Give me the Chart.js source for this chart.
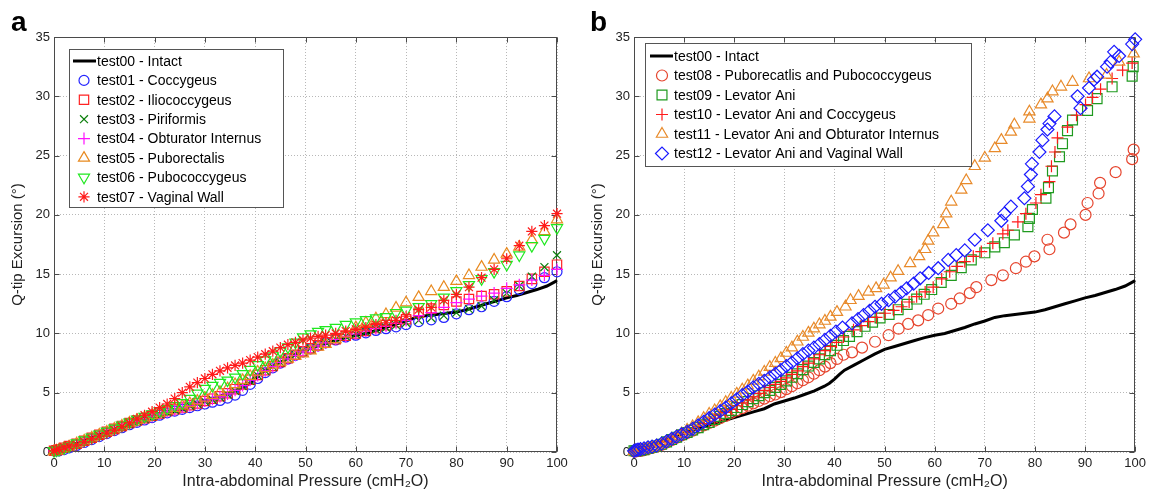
<!DOCTYPE html>
<html>
<head>
<meta charset="utf-8">
<title>Q-tip excursion vs intra-abdominal pressure</title>
<script src="https://cdn.jsdelivr.net/npm/chart.js@4.4.1/dist/chart.umd.min.js"></script>
<style>
html, body { margin: 0; padding: 0; background: #fff; }
#wrap { position: relative; width: 1150px; height: 494px; font-family: "Liberation Sans", Arial, sans-serif; }
.panel { position: absolute; top: 0; width: 575px; height: 494px; }
.letter { position: absolute; font-weight: bold; font-size: 28px; line-height: 28px; color: #000; }
</style>
</head>
<body>
<div id="wrap">
  <div class="panel" style="left:0"><canvas id="chartA" width="575" height="494"></canvas></div>
  <div class="panel" style="left:575px"><canvas id="chartB" width="575" height="494"></canvas></div>
  <div class="letter" style="left:11px; top:8px">a</div>
  <div class="letter" style="left:590px; top:8px">b</div>
</div>
<script>
// test00 - intact (solid black line, same in both panels)
const intactP = [0,2,4,6,8,10,12,14,16,18,20,22,24,26,28,30,32,34,36,38,39,40,41,42,44,46,48,50,52,54,56,58,60,62,64,66,68,70,72,74,76,78,80,82,84,86,88,90,92,94,96,98,100];
const intactQ = [0,0.3,0.65,0.95,1.3,1.6,1.9,2.15,2.4,2.65,2.9,3.15,3.4,3.65,4.05,4.3,4.55,4.85,5.15,5.55,5.8,6.15,6.55,6.9,7.35,7.8,8.25,8.65,8.9,9.15,9.4,9.65,9.85,10.0,10.25,10.5,10.8,11.05,11.35,11.5,11.6,11.7,11.8,12.0,12.25,12.5,12.75,13.0,13.2,13.45,13.7,14.0,14.45];

// panel a: pressure samples and excursions
const pressA = [0,0.5,1,2,3,4.5,6,7.5,9,10.5,12,13.5,15,16.5,18,19.5,21,22.5,24,25.5,27,28.5,30,31.5,33,34.5,36,37.5,39,40.5,42,43.5,45,46.5,48,49.5,51,52.5,54,56,58,60,62,64,66,68,70,72.5,75,77.5,80,82.5,85,87.5,90,92.5,95,97.5,100];
const test01 = [0.1,0.1,0.1,0.2,0.35,0.55,0.8,1.05,1.3,1.55,1.8,2.05,2.3,2.5,2.7,2.9,3.1,3.3,3.45,3.6,3.75,3.9,4.05,4.2,4.35,4.55,4.8,5.2,5.7,6.2,6.7,7.1,7.5,7.85,8.15,8.45,8.7,8.95,9.2,9.45,9.7,9.85,10.05,10.25,10.4,10.55,10.75,11.0,11.15,11.35,11.65,12.0,12.25,12.7,13.1,13.7,14.2,14.7,15.2];
const test02 = [0.1,0.15,0.2,0.35,0.5,0.7,0.95,1.2,1.45,1.7,1.95,2.2,2.45,2.65,2.85,3.05,3.25,3.45,3.6,3.75,3.95,4.1,4.3,4.5,4.7,4.95,5.3,5.7,6.1,6.5,6.9,7.25,7.6,7.9,8.2,8.5,8.75,9.0,9.25,9.5,9.8,10.0,10.2,10.45,10.7,10.95,11.2,11.75,12.1,12.4,12.7,12.9,13.15,13.3,13.55,14.0,14.6,15.2,15.8];
const test03 = [0.1,0.15,0.2,0.3,0.45,0.65,0.9,1.15,1.4,1.65,1.9,2.15,2.4,2.6,2.8,3.0,3.2,3.4,3.55,3.7,3.9,4.05,4.25,4.4,4.6,4.85,5.15,5.55,6.0,6.45,6.85,7.2,7.55,7.9,8.2,8.5,8.75,9.0,9.25,9.5,9.75,9.95,10.15,10.35,10.5,10.7,10.9,11.1,11.3,11.5,11.75,12.05,12.3,12.8,13.4,14.0,14.8,15.6,16.6];
const test04 = [0.1,0.1,0.15,0.3,0.45,0.65,0.9,1.15,1.4,1.65,1.9,2.15,2.4,2.6,2.8,3.0,3.2,3.4,3.55,3.75,3.9,4.1,4.3,4.45,4.65,4.9,5.2,5.6,6.05,6.45,6.85,7.2,7.55,7.85,8.15,8.45,8.7,8.95,9.2,9.5,9.75,9.95,10.2,10.4,10.6,10.85,11.1,11.5,11.75,12.2,12.6,12.9,13.15,13.4,13.8,14.1,14.5,14.9,15.4];
const test05 = [0.05,0.1,0.15,0.3,0.45,0.7,0.95,1.2,1.45,1.7,1.95,2.2,2.45,2.7,2.9,3.1,3.3,3.5,3.7,3.9,4.1,4.3,4.55,4.8,5.05,5.35,5.7,6.05,6.4,6.75,7.05,7.35,7.6,7.85,8.1,8.3,8.55,8.85,9.1,9.5,9.95,10.5,10.9,11.25,11.6,12.15,12.6,13.05,13.55,13.9,14.4,14.9,15.6,16.2,16.7,17.3,17.9,18.6,19.6];
const test06 = [0.1,0.15,0.2,0.35,0.5,0.75,1.0,1.25,1.5,1.75,2.0,2.25,2.5,2.75,3.0,3.2,3.45,3.65,3.9,4.15,4.5,4.95,5.35,5.6,5.85,6.05,6.3,6.6,6.95,7.35,7.75,8.1,8.5,8.85,9.25,9.7,9.95,10.15,10.3,10.5,10.75,10.95,11.15,11.3,11.4,11.75,11.95,12.25,12.5,13.05,13.6,14.1,14.6,15.2,15.8,16.6,17.4,18.0,18.9];
const test07 = [0.1,0.2,0.25,0.4,0.5,0.6,0.85,1.1,1.35,1.6,1.85,2.15,2.45,2.8,3.1,3.4,3.75,4.05,4.5,5.0,5.5,5.85,6.2,6.55,6.85,7.1,7.3,7.5,7.75,8.0,8.25,8.5,8.8,9.05,9.25,9.45,9.6,9.75,9.85,10.0,10.2,10.35,10.5,10.75,10.9,11.1,11.45,12.0,12.2,12.8,13.3,13.9,14.7,15.4,16.3,17.4,18.6,19.1,20.1];

// panel b: shared low-pressure samples, then each test's own samples
const pressB = [0,0.4,0.8,1.3,2,2.8,3.6,4.5,5.5,6.5,7.5,8.5,9.5,10.6,11.7,12.8,13.9,15,16.1,17.2,18.3,19.4,20.5,21.6,22.7,23.8,24.9,26,27.1,28.2,29.3,30.4,31.5,32.6,33.7,34.8,35.9,37,38.1,39.2];
const test08Low = [0.05,0.05,0.1,0.1,0.15,0.25,0.35,0.45,0.6,0.8,1.0,1.2,1.4,1.6,1.8,2.05,2.25,2.45,2.65,2.85,3.05,3.3,3.5,3.7,3.9,4.1,4.3,4.5,4.7,4.85,5.05,5.3,5.55,5.8,6.05,6.3,6.6,6.9,7.2,7.5];
const test09Low = [0.1,0.1,0.1,0.15,0.2,0.3,0.4,0.5,0.65,0.85,1.05,1.25,1.45,1.65,1.85,2.05,2.3,2.5,2.75,3.0,3.25,3.5,3.75,4.0,4.25,4.5,4.75,5.0,5.2,5.45,5.7,6.0,6.3,6.6,6.95,7.25,7.55,7.85,8.2,8.55];
const test10Low = [0.05,0.1,0.1,0.15,0.2,0.3,0.4,0.5,0.65,0.85,1.05,1.25,1.5,1.7,1.9,2.15,2.4,2.6,2.85,3.1,3.35,3.6,3.9,4.15,4.4,4.65,4.95,5.2,5.45,5.7,5.95,6.25,6.55,6.85,7.2,7.5,7.85,8.2,8.55,8.9];
const test11Low = [0.05,0.1,0.1,0.15,0.2,0.3,0.4,0.5,0.65,0.85,1.05,1.3,1.55,1.85,2.15,2.5,2.85,3.2,3.5,3.85,4.2,4.55,4.9,5.25,5.6,6.0,6.35,6.75,7.15,7.5,7.9,8.35,8.8,9.3,9.7,10.05,10.4,10.75,11.05,11.4];
const test12Low = [0.1,0.15,0.2,0.25,0.3,0.4,0.45,0.55,0.7,0.9,1.1,1.3,1.5,1.7,1.95,2.25,2.55,2.85,3.15,3.45,3.75,4.1,4.45,4.8,5.1,5.45,5.75,6.0,6.3,6.6,6.9,7.25,7.55,7.9,8.25,8.55,8.8,9.1,9.45,9.8];

const test08HighP = [40.5,41.8,43.5,45.5,48.1,50.8,52.8,54.7,56.7,58.7,60.7,63.3,65,67,68.3,71.3,73.6,76.2,78.2,79.9,82.5,82.9,85.8,87.1,90.1,90.5,92.7,93,96.1,99.4,99.7];
const test08HighQ = [7.85,8.2,8.4,8.8,9.3,9.85,10.4,10.8,11.1,11.55,12.1,12.5,12.95,13.4,13.9,14.5,14.9,15.5,16.05,16.5,17.9,17.1,18.5,19.2,20.0,21.0,21.8,22.7,23.6,24.7,25.5];
const test09HighP = [40.5,41.8,43,44.5,46.1,47.6,49.1,50.9,52.7,54.5,56.4,57.9,59.4,61.3,63.3,65.3,67.3,70,72,73.9,75.9,78.6,78.9,79.5,82.2,82.7,83.5,84.9,85.5,86.5,87.5,90.5,92.4,95.4,99.4,99.6];
const test09HighQ = [9.0,9.4,9.75,10.15,10.6,10.95,11.3,11.6,12.0,12.45,12.9,13.3,13.7,14.3,14.9,15.55,16.2,16.8,17.3,17.65,18.3,19.0,19.7,20.45,21.4,22.3,23.7,24.9,26.0,27.1,28.0,28.8,29.8,30.8,31.7,32.5];
const test10HighP = [40.4,41.8,43.8,45.3,46.8,48.4,50.1,51.8,53.4,54.9,56.4,58.1,59.7,61.4,63,64.5,66,67.7,69.3,71.6,73.6,74.6,76.6,78.2,80.2,81.2,82.9,83.3,84,84.5,86.5,88.3,90.1,91.5,93.1,95.4,97.5,99.4];
const test10HighQ = [9.25,9.7,10.3,10.65,11.0,11.35,11.7,11.95,12.25,12.65,13.1,13.5,13.9,14.6,15.2,15.65,16.05,16.5,16.9,17.6,18.4,18.7,19.4,20.1,21.0,21.7,22.8,24.1,25.3,26.5,27.4,28.4,29.3,29.9,30.6,31.5,32.2,32.8];
const test11HighP = [40.5,42.2,43.2,44.8,46.8,48.3,49.8,51.2,52.7,55.1,56.9,58.1,58.7,59.7,61.7,62.3,63.3,65.3,66.3,68,70,72,73.3,75.2,75.9,78.9,78.9,81.2,82.5,83.5,85.2,87.5,90.8,94.3,96.8,99.7];
const test11HighQ = [11.8,12.25,12.8,13.15,13.5,13.8,14.1,14.7,15.25,15.9,16.5,17.1,17.8,18.5,19.2,20.1,21.1,22.1,22.9,24.1,24.8,25.6,26.3,27.0,27.6,28.1,28.7,29.3,29.8,30.4,30.8,31.2,31.5,31.8,32.9,33.6];
const test12HighP = [40.3,41.6,43.5,44.7,45.8,47,48.1,49.4,50.8,52.1,53.3,54.4,55.8,57.1,58.8,60.7,62.7,64.3,66,68,70.6,73.3,73.9,75.2,77.9,78.6,79.2,79.4,80.9,81.5,82.5,82.9,83.9,88.5,89.1,90.8,91.8,92.4,94.4,95.1,95.8,96.8,99.4,100];
const test12HighQ = [10.15,10.5,10.85,11.2,11.55,11.9,12.25,12.5,12.8,13.1,13.45,13.8,14.2,14.65,15.1,15.5,16.2,16.6,17.0,17.9,18.7,19.5,20.1,20.7,21.4,22.4,23.4,24.3,25.3,26.3,27.2,27.7,28.3,30.0,29.0,30.7,31.4,31.65,32.5,32.9,33.75,33.4,34.4,34.8];

const xTicks = [0,10,20,30,40,50,60,70,80,90,100];
const yTicks = [0,5,10,15,20,25,30,35];

const FONT = '"Liberation Sans", Arial, Helvetica, sans-serif';
Chart.defaults.font.family = FONT;

function pts(xs, ys) {
  return xs.map((x, i) => ({ x: x, y: ys[i] }));
}

function lineSet() {
  return {
    label: 'test00 - Intact', data: pts(intactP, intactQ), showLine: true,
    borderColor: '#000', borderWidth: 3, pointRadius: 0, fill: false, clip: false
  };
}

function markSet(label, data, style, r, color, rot) {
  return {
    label: label, data: data, showLine: false,
    pointStyle: style, pointRadius: r, pointHoverRadius: r, pointRotation: rot || 0,
    pointBorderColor: color, pointBackgroundColor: 'rgba(0,0,0,0)', pointBorderWidth: 1.2,
    borderColor: color, backgroundColor: 'rgba(0,0,0,0)', clip: false
  };
}

// later series drawn on top, like the original plot
function stackOrder(sets) {
  sets.forEach((s, i) => { s.order = sets.length - i; });
  return sets;
}

const framePlugin = {
  id: 'frame',
  beforeDatasetsDraw(chart) {
    const { ctx, chartArea: a, scales: { x, y } } = chart;
    const L = Math.round(a.left) + 0.5, R = Math.round(a.right) - 0.5;
    const T = Math.round(a.top) + 0.5, B = Math.round(a.bottom) - 0.5;
    ctx.save();
    ctx.strokeStyle = '#4a4a4a';
    ctx.lineWidth = 1;
    ctx.strokeRect(L, T, R - L, B - T);
    ctx.beginPath();
    xTicks.forEach(v => {
      const px = Math.round(x.getPixelForValue(v)) + 0.5;
      ctx.moveTo(px, B); ctx.lineTo(px, B - 5);
      ctx.moveTo(px, T); ctx.lineTo(px, T + 5);
    });
    yTicks.forEach(v => {
      const py = Math.round(y.getPixelForValue(v)) + 0.5;
      ctx.moveTo(L, py); ctx.lineTo(L + 5, py);
      ctx.moveTo(R, py); ctx.lineTo(R - 5, py);
    });
    ctx.stroke();
    ctx.restore();
  }
};

const boxLegend = {
  id: 'boxLegend',
  afterDraw(chart, args, o) {
    const ctx = chart.ctx;
    const [l, t, r, b] = o.box;
    ctx.save();
    ctx.fillStyle = '#fff';
    ctx.fillRect(l, t, r - l, b - t);
    ctx.strokeStyle = '#555';
    ctx.lineWidth = 1;
    ctx.strokeRect(l + 0.5, t + 0.5, r - l, b - t);
    ctx.font = '14px ' + FONT;
    ctx.textBaseline = 'middle';
    chart.data.datasets.forEach((ds, i) => {
      const y = o.rowTop + i * o.rowStep;
      if (ds.showLine) {
        ctx.strokeStyle = ds.borderColor;
        ctx.lineWidth = ds.borderWidth;
        ctx.beginPath();
        ctx.moveTo(o.lineX0, y); ctx.lineTo(o.lineX1, y);
        ctx.stroke();
      } else {
        ctx.strokeStyle = ds.pointBorderColor;
        ctx.fillStyle = 'rgba(0,0,0,0)';
        ctx.lineWidth = ds.pointBorderWidth;
        Chart.helpers.drawPoint(ctx, {
          pointStyle: ds.pointStyle, radius: ds.pointRadius,
          rotation: ds.pointRotation, borderWidth: ds.pointBorderWidth
        }, o.symX, y);
      }
      ctx.fillStyle = '#000';
      ctx.fillText(ds.label, o.textX, y + 1);
    });
    ctx.restore();
  }
};

function scales(yWidth, yTitlePad) {
  return {
    x: {
      type: 'linear', min: 0, max: 100,
      ticks: { stepSize: 10, color: '#222', font: { size: 13 }, padding: 4, maxRotation: 0 },
      grid: { color: '#b8b8b8', lineWidth: 1, drawTicks: false },
      border: { display: false, dash: [1, 2] },
      title: { display: true, text: 'Intra-abdominal Pressure (cmH\u2082O)', color: '#222', font: { size: 16 }, padding: { top: 0, bottom: 3 } },
      afterFit: s => { s.height = 42; }
    },
    y: {
      type: 'linear', min: 0, max: 35,
      ticks: { stepSize: 5, color: '#222', font: { size: 13 }, padding: 4 },
      grid: { color: '#b8b8b8', lineWidth: 1, drawTicks: false },
      border: { display: false, dash: [1, 2] },
      title: { display: true, text: 'Q-tip Excursion (\u00b0)', color: '#222', font: { size: 15 }, padding: { top: yTitlePad, bottom: 0 } },
      afterFit: s => { s.width = yWidth; }
    }
  };
}

function baseOptions(pad, yWidth, yTitlePad, legendOpts) {
  return {
    responsive: false,
    animation: false,
    devicePixelRatio: 1,
    layout: { padding: pad },
    scales: scales(yWidth, yTitlePad),
    plugins: { legend: { display: false }, tooltip: { enabled: false }, boxLegend: legendOpts }
  };
}

const setsA = stackOrder([
  lineSet(),
  markSet('test01 - Coccygeus', pts(pressA, test01), 'circle', 5, '#2424ff'),
  markSet('test02 - Iliococcygeus', pts(pressA, test02), 'rect', 6.6, '#ff2222'),
  markSet('test03 - Piriformis', pts(pressA, test03), 'crossRot', 5.6, '#0b7f0b'),
  markSet('test04 - Obturator Internus', pts(pressA, test04), 'cross', 6, '#ff10ff'),
  markSet('test05 - Puborectalis', pts(pressA, test05), 'triangle', 6.4, '#e8891e'),
  markSet('test06 - Pubococcygeus', pts(pressA, test06), 'triangle', 6.4, '#1fe81f', 180),
  markSet('test07 - Vaginal Wall', pts(pressA, test07), 'star', 5.6, '#ff1a1a')
]);

const setsB = stackOrder([
  lineSet(),
  markSet('test08 - Puborecatlis and Pubococcygeus', pts(pressB.concat(test08HighP), test08Low.concat(test08HighQ)), 'circle', 5.5, '#e6452e'),
  markSet('test09 - Levator Ani', pts(pressB.concat(test09HighP), test09Low.concat(test09HighQ)), 'rect', 7, '#1f9a1f'),
  markSet('test10 - Levator Ani and Coccygeus', pts(pressB.concat(test10HighP), test10Low.concat(test10HighQ)), 'cross', 6, '#ff1a1a'),
  markSet('test11 - Levator Ani and Obturator Internus', pts(pressB.concat(test11HighP), test11Low.concat(test11HighQ)), 'triangle', 6.5, '#e88a2a'),
  markSet('test12 - Levator Ani and Vaginal Wall', pts(pressB.concat(test12HighP), test12Low.concat(test12HighQ)), 'rectRot', 6.5, '#1a1aff')
]);

new Chart(document.getElementById('chartA'), {
  type: 'scatter',
  data: { datasets: setsA },
  options: baseOptions({ left: 0, right: 18, top: 37, bottom: 0 }, 54, 9,
    { box: [69, 49, 283, 207], rowTop: 61, rowStep: 19.4, symX: 84, lineX0: 73, lineX1: 96, textX: 97 }),
  plugins: [framePlugin, boxLegend]
});

new Chart(document.getElementById('chartB'), {
  type: 'scatter',
  data: { datasets: setsB },
  options: baseOptions({ left: 0, right: 12, top: 37, bottom: 0 }, 59, 14,
    { box: [70, 43, 396, 166], rowTop: 56, rowStep: 19.5, symX: 87, lineX0: 75, lineX1: 98, textX: 99 }),
  plugins: [framePlugin, boxLegend]
});
</script>
</body>
</html>
